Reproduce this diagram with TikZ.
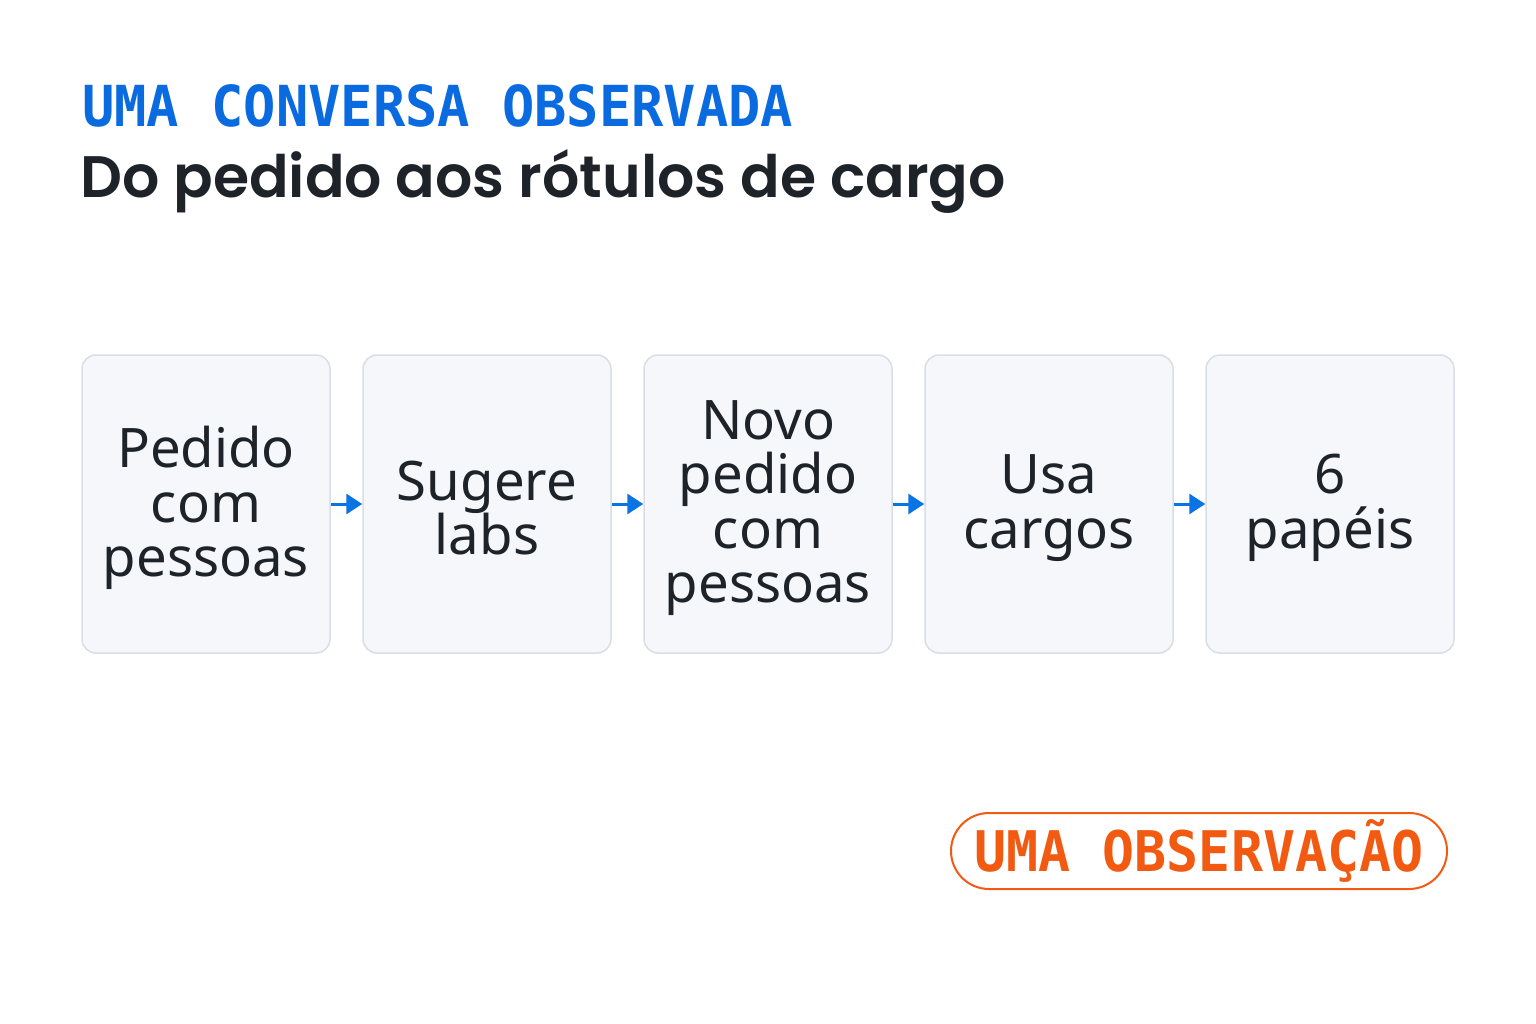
\documentclass[tikz,border=0pt]{standalone}
\usepackage{fontspec}
\setmainfont{Noto Sans}
\newfontfamily\monob[FakeStretch=0.95]{DejaVu Sans Mono Bold}
\newfontfamily\headf{Poppins SemiBold}
\usetikzlibrary{arrows.meta}
\definecolor{bluec}{HTML}{0A6ADF}
\definecolor{inkc}{HTML}{1E2329}
\definecolor{boxfill}{HTML}{F5F7FB}
\definecolor{boxline}{HTML}{D9DEE6}
\definecolor{arrowc}{HTML}{0B74E5}
\definecolor{orangec}{HTML}{F25A12}
\begin{document}
\begin{tikzpicture}[x=1pt,y=-1pt,
  stepbox/.style={draw=boxline,line width=1.5pt,fill=boxfill,rounded corners=14pt,
    minimum width=248pt,minimum height=298pt,inner sep=0pt},
  steptext/.style={align=center,text=inkc,yshift=-4pt,inner sep=0pt,
    font=\fontsize{54.5}{54.5}\selectfont},
  flow/.style={draw=arrowc,line width=3pt,-{Triangle[length=16pt,width=20pt]}},
  badge/.style={draw=orangec,line width=2pt,fill=white,rounded corners=38pt,
    minimum width=496pt,minimum height=76pt,inner sep=0pt,text=orangec,
    font=\monob\fontsize{56}{56}\selectfont}]
\useasboundingbox (0,0) rectangle (1536,1024);
\fill[white] (0,0) rectangle (1536,1024);
\node[anchor=base west,inner sep=0pt,text=bluec,font=\monob\fontsize{56.5}{56}\selectfont] (kicker) at (82,127) {UMA CONVERSA OBSERVADA};
\node[anchor=base west,inner sep=0pt,text=inkc,font=\headf\fontsize{58.5}{58.5}\selectfont] (title) at (80,198) {Do pedido aos rótulos de cargo};
\node[stepbox,label={[steptext]center:{Pedido\\com\\pessoas}}] (b1) at (206,504) {};
\node[stepbox,label={[steptext]center:{Sugere\\labs}}] (b2) at (487,504) {};
\node[stepbox,label={[steptext]center:{Novo\\pedido\\com\\pessoas}}] (b3) at (768,504) {};
\node[stepbox,label={[steptext]center:{Usa\\cargos}}] (b4) at (1049,504) {};
\node[stepbox,label={[steptext]center:{6\\papéis}}] (b5) at (1330,504) {};
\draw[flow] (b1.east) -- (b2.west);
\draw[flow] (b2.east) -- (b3.west);
\draw[flow] (b3.east) -- (b4.west);
\draw[flow] (b4.east) -- (b5.west);
\node[badge] (tag) at (1199,851) {UMA OBSERVAÇÃO};
\end{tikzpicture}
\end{document}
